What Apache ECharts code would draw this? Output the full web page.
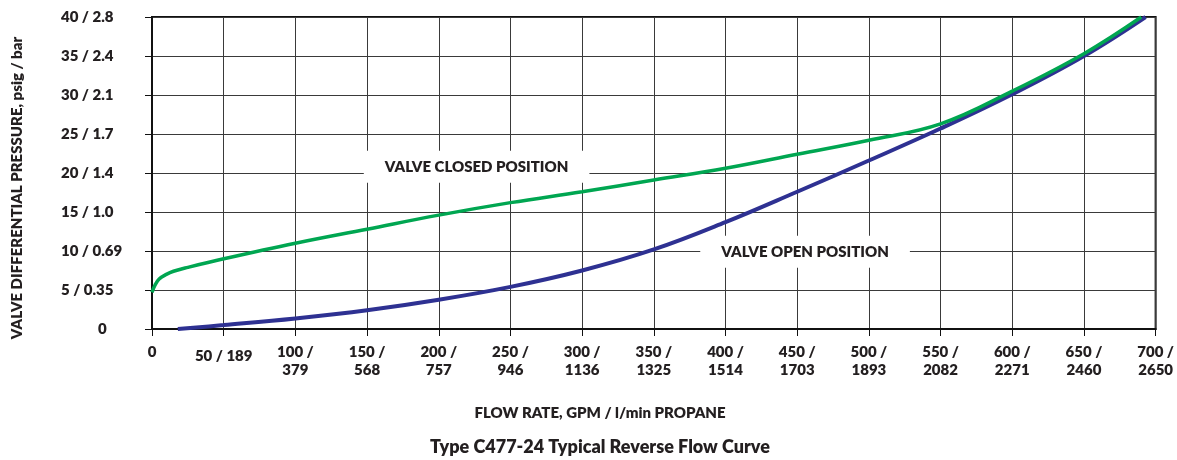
<!DOCTYPE html>
<html>
<head>
<meta charset="utf-8">
<script src="https://cdn.jsdelivr.net/npm/echarts@6/dist/echarts.min.js"></script>
<style>
  html, body { margin: 0; padding: 0; background: #ffffff; }
  #chart { width: 1177px; height: 460px; }
</style>
</head>
<body>
<div id="chart"></div>
<script>
// Flow rate tick values (GPM) and their l/min equivalents
const gpmTicks = [0, 50, 100, 150, 200, 250, 300, 350, 400, 450, 500, 550, 600, 650, 700];
const lpmTicks = [null, 189, 379, 568, 757, 946, 1136, 1325, 1514, 1703, 1893, 2082, 2271, 2460, 2650];

// Pressure tick values (psig) and their bar equivalents
const psigTicks = [0, 5, 10, 15, 20, 25, 30, 35, 40];
const barTicks = [null, '0.35', '0.69', '1.0', '1.4', '1.7', '2.1', '2.4', '2.8'];

// Valve closed position curve: [GPM, psig]
const closedCurve = [
  [0, 4.7], [2, 5.6], [5, 6.4], [10, 7.0], [15, 7.4], [25, 7.9], [50, 9.0],
  [100, 11.0], [150, 12.8], [200, 14.6], [250, 16.2], [300, 17.6], [350, 19.1],
  [400, 20.6], [450, 22.4], [500, 24.2], [550, 26.3], [600, 30.5], [650, 35.3], [690, 40]
];

// Valve open position curve: [GPM, psig]
const openCurve = [
  [18, 0], [50, 0.5], [100, 1.35], [150, 2.4], [200, 3.75], [250, 5.4], [300, 7.5],
  [350, 10.2], [400, 13.7], [450, 17.6], [500, 21.6], [550, 25.7], [600, 30.1],
  [650, 35.0], [693, 40]
];

const seriesNames = ['VALVE CLOSED POSITION', 'VALVE OPEN POSITION'];

const FONT = 'Lato';
const WEIGHT = 800;
const INK = '#231f20';

const chart = echarts.init(document.getElementById('chart'), null, { renderer: 'canvas' });

function xLabel(value) {
  const i = gpmTicks.indexOf(value);
  if (i < 0) return '';
  const l = lpmTicks[i];
  if (l === null) return '{t|' + value + '}';
  if (value === 50) return '{m|' + value + ' / ' + l + '}';
  return '{t|' + value + ' /}\n{t|' + l + '}';
}

function yLabel(value) {
  const i = psigTicks.indexOf(value);
  if (i < 0) return '';
  const b = barTicks[i];
  if (b === null) return '{z|' + value + '}';
  return '{t|' + value + ' / ' + b + '}';
}

const tickText = { fontFamily: FONT, fontWeight: WEIGHT, fontSize: 15, color: INK, lineHeight: 18 };

function noteLabel() {
  return {
    show: true,
    position: 'inside',
    formatter: '{b}',
    fontFamily: FONT,
    fontWeight: WEIGHT,
    fontSize: 15,
    color: INK,
    backgroundColor: '#ffffff',
    padding: [9, 21, 8, 21]
  };
}

chart.setOption({
  backgroundColor: '#ffffff',
  animation: false,
  grid: {
    left: 152, right: 17, top: 17, bottom: 131,
    show: true, borderColor: '#111', borderWidth: 2, backgroundColor: 'transparent'
  },
  xAxis: {
    type: 'value',
    min: 0, max: 700, interval: 50,
    axisLine: { show: true, lineStyle: { color: '#111', width: 2 } },
    axisTick: { show: true, inside: false, length: 7, lineStyle: { color: '#111', width: 1 } },
    splitLine: { show: true, lineStyle: { color: '#3a3a3a', width: 1 } },
    axisLabel: {
      margin: 14,
      formatter: xLabel,
      rich: {
        t: tickText,
        m: Object.assign({}, tickText, { padding: [9, 0, 0, 0] })
      }
    }
  },
  yAxis: {
    type: 'value',
    min: 0, max: 40, interval: 5,
    axisLine: { show: true, lineStyle: { color: '#111', width: 2 } },
    axisTick: { show: true, inside: false, length: 7, lineStyle: { color: '#111', width: 1 } },
    splitLine: { show: true, lineStyle: { color: '#3a3a3a', width: 1 } },
    axisLabel: {
      margin: 91,
      align: 'left',
      formatter: yLabel,
      rich: {
        t: tickText,
        z: Object.assign({}, tickText, { padding: [0, 0, 0, 37] })
      }
    }
  },
  graphic: [
    {
      type: 'text',
      x: 17, y: 188, rotation: Math.PI / 2,
      style: {
        text: 'VALVE DIFFERENTIAL PRESSURE, psig / bar',
        fontFamily: FONT, fontWeight: WEIGHT, fontSize: 15, fill: INK,
        align: 'center', verticalAlign: 'middle'
      }
    },
    {
      type: 'text',
      x: 600, y: 413,
      style: {
        text: 'FLOW RATE, GPM / l/min PROPANE',
        fontFamily: FONT, fontWeight: WEIGHT, fontSize: 15, fill: INK,
        align: 'center', verticalAlign: 'middle'
      }
    },
    {
      type: 'text',
      x: 600, y: 447,
      style: {
        text: 'Type C477-24 Typical Reverse Flow Curve',
        fontFamily: FONT, fontWeight: WEIGHT, fontSize: 18, fill: INK,
        align: 'center', verticalAlign: 'middle'
      }
    }
  ],
  series: [
    {
      name: seriesNames[1],
      type: 'line',
      data: openCurve,
      smooth: 0.4,
      showSymbol: false,
      symbol: 'none',
      z: 3,
      lineStyle: { color: '#2e3192', width: 4 },
      markPoint: {
        symbol: 'rect', symbolSize: 0.01,
        label: noteLabel(),
        data: [{ name: seriesNames[1], coord: [455.5, 9.9] }]
      }
    },
    {
      name: seriesNames[0],
      type: 'line',
      data: closedCurve,
      smooth: 0.4,
      showSymbol: false,
      symbol: 'none',
      z: 4,
      lineStyle: { color: '#00a651', width: 3.5 },
      markPoint: {
        symbol: 'rect', symbolSize: 0.01,
        label: noteLabel(),
        data: [{ name: seriesNames[0], coord: [226.4, 20.8] }]
      }
    }
  ]
});
</script>
</body>
</html>
